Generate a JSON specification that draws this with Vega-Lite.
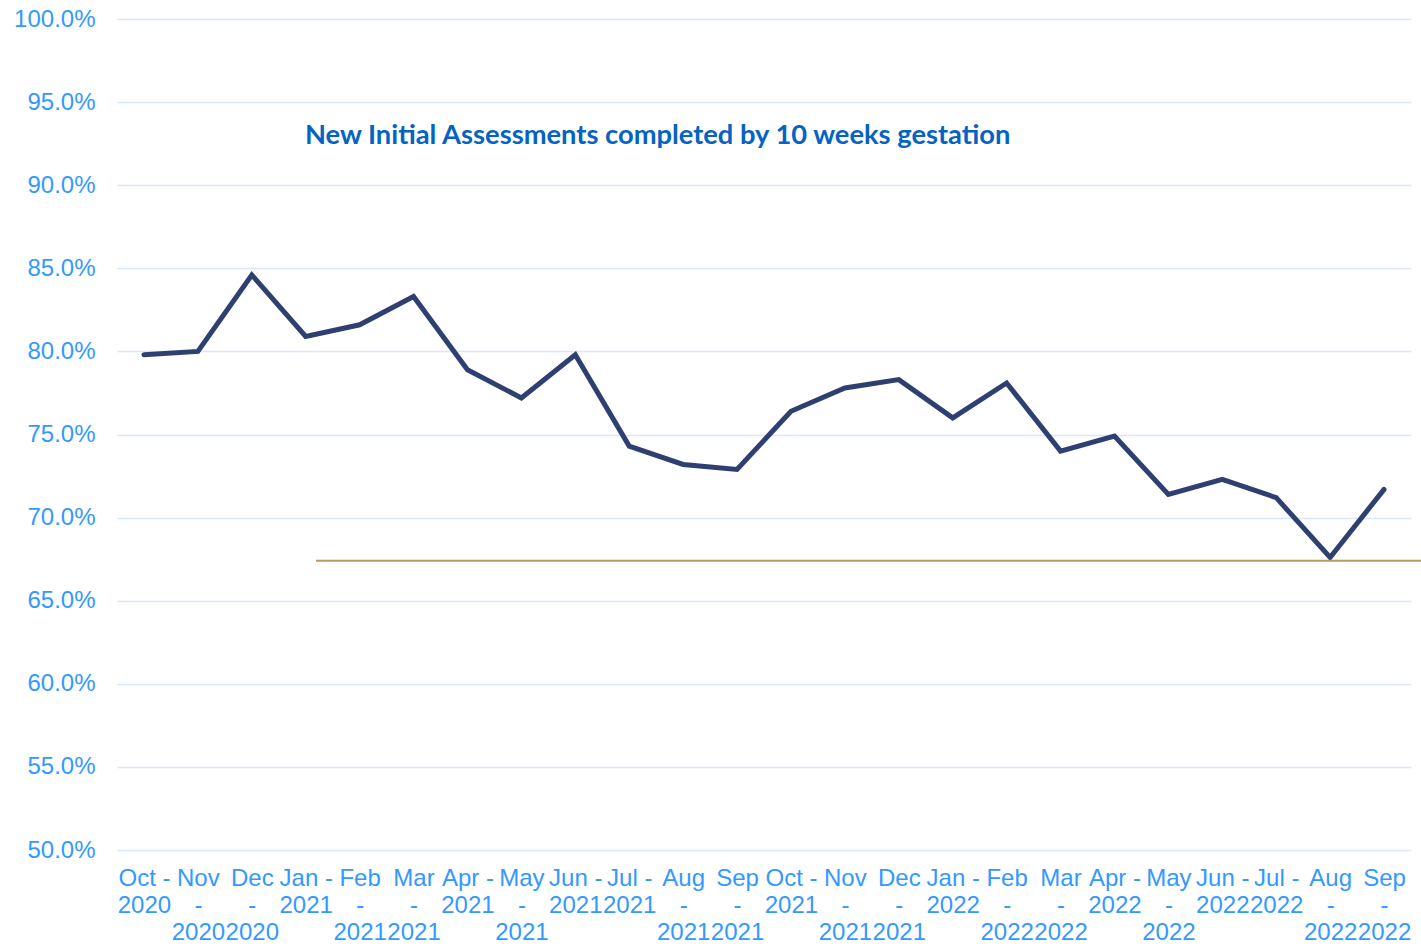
{
  "$schema": "https://vega.github.io/schema/vega-lite/v6.json",
  "width": 1294,
  "height": 831,
  "autosize": {"type": "none"},
  "padding": {"left": 117, "top": 19, "right": 10, "bottom": 102},
  "background": "white",
  "title": {
    "text": "New Initial Assessments completed by 10 weeks gestation",
    "anchor": "start",
    "frame": "group",
    "dx": 188,
    "offset": -164,
    "baseline": "alphabetic",
    "font": "Lato",
    "fontWeight": "bold",
    "fontSize": 27.3,
    "color": "#0563C1"
  },
  "config": {
    "view": {"stroke": null},
    "axis": {"labelFont": "Liberation Sans", "labelFontSize": 24, "labelColor": "#3399FF"}
  },
  "datasets": {
    "series": [
      {"month": "Oct -|2020", "value": 0.798},
      {"month": "Nov|-|2020", "value": 0.800},
      {"month": "Dec|-|2020 ", "value": 0.846},
      {"month": "Jan -|2021", "value": 0.809},
      {"month": "Feb|-|2021", "value": 0.816},
      {"month": "Mar|-|2021 ", "value": 0.833},
      {"month": "Apr -|2021", "value": 0.789},
      {"month": "May|-|2021", "value": 0.772},
      {"month": "Jun -|2021", "value": 0.798},
      {"month": "Jul -|2021", "value": 0.743},
      {"month": "Aug|-|2021", "value": 0.732},
      {"month": "Sep|-|2021", "value": 0.729},
      {"month": "Oct -|2021", "value": 0.764},
      {"month": "Nov|-|2021", "value": 0.778},
      {"month": "Dec|-|2021", "value": 0.783},
      {"month": "Jan -|2022", "value": 0.760},
      {"month": "Feb|-|2022", "value": 0.781},
      {"month": "Mar|-|2022", "value": 0.740},
      {"month": "Apr -|2022", "value": 0.749},
      {"month": "May|-|2022", "value": 0.714},
      {"month": "Jun -|2022", "value": 0.723},
      {"month": "Jul -|2022", "value": 0.712},
      {"month": "Aug|-|2022", "value": 0.676},
      {"month": "Sep|-|2022", "value": 0.717}
    ],
    "target": [
      {"from": 3.69, "to": 24.19, "target": 0.674}
    ]
  },
  "layer": [
    {
      "data": {"name": "series"},
      "mark": {"type": "line", "color": "#2E3F72", "strokeWidth": 5, "strokeJoin": "miter", "strokeCap": "round"},
      "encoding": {
        "x": {
          "field": "month",
          "type": "nominal",
          "sort": null,
          "scale": {"type": "point", "padding": 0.5},
          "axis": {
            "title": null,
            "labelAngle": 0,
            "domain": false,
            "ticks": false,
            "grid": false,
            "labelPadding": 16,
            "labelLineHeight": 27,
            "labelBaseline": "top",
            "labelOverlap": false,
            "labelExpr": "split(datum.label, '|')"
          }
        },
        "y": {
          "field": "value",
          "type": "quantitative",
          "scale": {"domain": [0.5, 1.0], "nice": false, "zero": false},
          "axis": {
            "title": null,
            "values": [0.5, 0.55, 0.6, 0.65, 0.7, 0.75, 0.8, 0.85, 0.9, 0.95, 1.0],
            "format": ".1%",
            "domain": false,
            "ticks": false,
            "grid": true,
            "gridColor": "#D6E8F9",
            "gridWidth": 1.5,
            "labelPadding": 22
          }
        }
      }
    },
    {
      "data": {"name": "target"},
      "mark": {"type": "rule", "color": "#B89B5E", "strokeWidth": 2},
      "encoding": {
        "x": {"field": "from", "type": "quantitative", "scale": {"domain": [0, 24], "nice": false, "zero": false}, "axis": null},
        "x2": {"field": "to"},
        "y": {"field": "target", "type": "quantitative"}
      }
    }
  ],
  "resolve": {"scale": {"x": "independent"}}
}
